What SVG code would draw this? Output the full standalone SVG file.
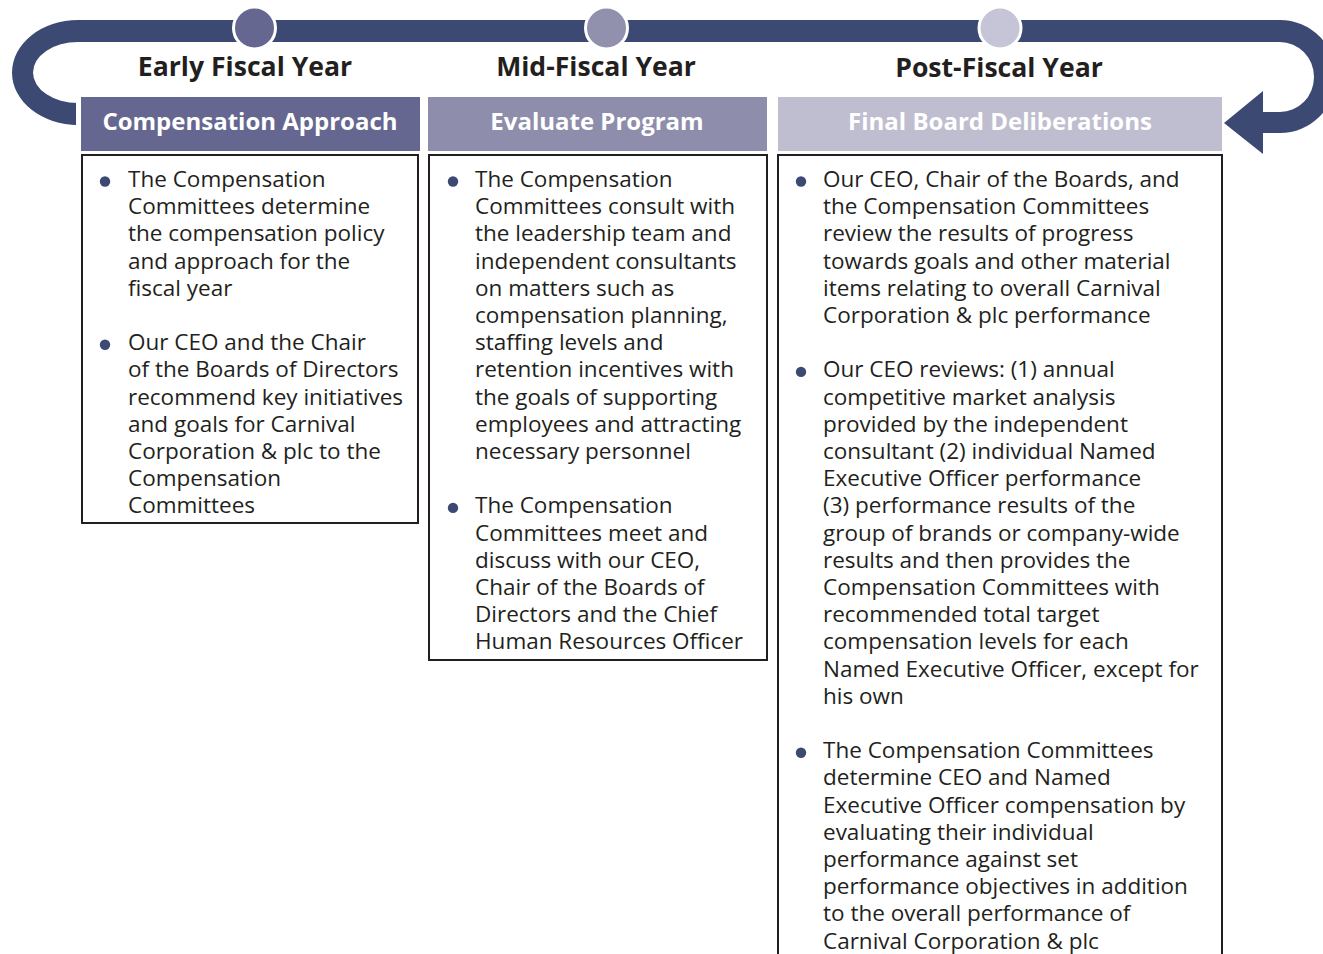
<svg xmlns="http://www.w3.org/2000/svg" width="1323" height="954" viewBox="0 0 1323 954">
<style>
.phase{font-family:"Open Sans","Noto Sans",sans-serif;font-weight:700;font-size:26.6px;fill:#231f20;text-anchor:middle}
.hdr{font-family:"Open Sans","Noto Sans",sans-serif;font-weight:700;font-size:24px;fill:#ffffff;text-anchor:middle}
.body{font-family:"Open Sans","Noto Sans",sans-serif;font-size:22.5px;fill:#231f20}
.box{fill:#ffffff;stroke:#231f20;stroke-width:2}
.dot{fill:#3c4a73}
.ring{stroke:#ffffff;stroke-width:3}
</style>
<rect width="1323" height="954" fill="#ffffff"/>
<g id="connectors">
<path d="M 78 20 L 1280 20 A 56 56.5 0 0 1 1280 133 L 1263 133 L 1263 154 L 1224 123 L 1263 91 L 1263 112 L 1280 112 A 34 35 0 0 0 1280 42 L 78 42 A 45 30.5 0 0 0 78 103 L 76 103 L 76 125 L 78 125 A 66 52.5 0 0 1 78 20 Z" fill="#3c4a73"/>
</g>
<g id="marker-early"><circle class="ring" cx="254.5" cy="28" r="21" fill="#656790"/></g>
<g id="marker-mid"><circle class="ring" cx="606.5" cy="28" r="21" fill="#9190ad"/></g>
<g id="marker-post"><circle class="ring" cx="1000" cy="28" r="21" fill="#c6c5d8"/></g>
<g id="phase-early"><text class="phase" x="245" y="76">Early Fiscal Year</text></g>
<g id="phase-mid"><text class="phase" x="596" y="76">Mid-Fiscal Year</text></g>
<g id="phase-post"><text class="phase" x="999" y="77">Post-Fiscal Year</text></g>
<g id="header-1"><rect x="81" y="97" width="339" height="54" fill="#656790"/><text class="hdr" x="250" y="129.5">Compensation Approach</text></g>
<g id="header-2"><rect x="428" y="97" width="339" height="54" fill="#8e8dab"/><text class="hdr" x="597" y="129.5">Evaluate Program</text></g>
<g id="header-3"><rect x="778" y="97" width="444" height="54" fill="#bfbed0"/><text class="hdr" x="1000" y="129.5">Final Board Deliberations</text></g>
<g id="box-1">
<rect class="box" x="82" y="155" width="336" height="368"/>
<circle class="dot" cx="105" cy="181.5" r="5.2"/>
<text class="body" x="128" y="187"><tspan x="128">The Compensation</tspan><tspan x="128" dy="27.2">Committees determine</tspan><tspan x="128" dy="27.2">the compensation policy</tspan><tspan x="128" dy="27.2">and approach for the</tspan><tspan x="128" dy="27.2">fiscal year</tspan></text>
<circle class="dot" cx="105" cy="344.7" r="5.2"/>
<text class="body" x="128" y="350.2"><tspan x="128">Our CEO and the Chair</tspan><tspan x="128" dy="27.2">of the Boards of Directors</tspan><tspan x="128" dy="27.2">recommend key initiatives</tspan><tspan x="128" dy="27.2">and goals for Carnival</tspan><tspan x="128" dy="27.2">Corporation &amp; plc to the</tspan><tspan x="128" dy="27.2">Compensation</tspan><tspan x="128" dy="27.2">Committees</tspan></text>
</g>
<g id="box-2">
<rect class="box" x="429" y="155" width="338" height="505"/>
<circle class="dot" cx="453" cy="181.5" r="5.2"/>
<text class="body" x="475" y="187"><tspan x="475">The Compensation</tspan><tspan x="475" dy="27.2">Committees consult with</tspan><tspan x="475" dy="27.2">the leadership team and</tspan><tspan x="475" dy="27.2">independent consultants</tspan><tspan x="475" dy="27.2">on matters such as</tspan><tspan x="475" dy="27.2">compensation planning,</tspan><tspan x="475" dy="27.2">staffing levels and</tspan><tspan x="475" dy="27.2">retention incentives with</tspan><tspan x="475" dy="27.2">the goals of supporting</tspan><tspan x="475" dy="27.2">employees and attracting</tspan><tspan x="475" dy="27.2">necessary personnel</tspan></text>
<circle class="dot" cx="453" cy="507.9" r="5.2"/>
<text class="body" x="475" y="513.4"><tspan x="475">The Compensation</tspan><tspan x="475" dy="27.2">Committees meet and</tspan><tspan x="475" dy="27.2">discuss with our CEO,</tspan><tspan x="475" dy="27.2">Chair of the Boards of</tspan><tspan x="475" dy="27.2">Directors and the Chief</tspan><tspan x="475" dy="27.2">Human Resources Officer</tspan></text>
</g>
<g id="box-3">
<rect class="box" x="778" y="155" width="444" height="820"/>
<circle class="dot" cx="801" cy="181.5" r="5.2"/>
<text class="body" x="823" y="187"><tspan x="823">Our CEO, Chair of the Boards, and</tspan><tspan x="823" dy="27.2">the Compensation Committees</tspan><tspan x="823" dy="27.2">review the results of progress</tspan><tspan x="823" dy="27.2">towards goals and other material</tspan><tspan x="823" dy="27.2">items relating to overall Carnival</tspan><tspan x="823" dy="27.2">Corporation &amp; plc performance</tspan></text>
<circle class="dot" cx="801" cy="371.9" r="5.2"/>
<text class="body" x="823" y="377.4"><tspan x="823">Our CEO reviews: (1) annual</tspan><tspan x="823" dy="27.2">competitive market analysis</tspan><tspan x="823" dy="27.2">provided by the independent</tspan><tspan x="823" dy="27.2">consultant (2) individual Named</tspan><tspan x="823" dy="27.2">Executive Officer performance</tspan><tspan x="823" dy="27.2">(3) performance results of the</tspan><tspan x="823" dy="27.2">group of brands or company-wide</tspan><tspan x="823" dy="27.2">results and then provides the</tspan><tspan x="823" dy="27.2">Compensation Committees with</tspan><tspan x="823" dy="27.2">recommended total target</tspan><tspan x="823" dy="27.2">compensation levels for each</tspan><tspan x="823" dy="27.2">Named Executive Officer, except for</tspan><tspan x="823" dy="27.2">his own</tspan></text>
<circle class="dot" cx="801" cy="752.7" r="5.2"/>
<text class="body" x="823" y="758.2"><tspan x="823">The Compensation Committees</tspan><tspan x="823" dy="27.2">determine CEO and Named</tspan><tspan x="823" dy="27.2">Executive Officer compensation by</tspan><tspan x="823" dy="27.2">evaluating their individual</tspan><tspan x="823" dy="27.2">performance against set</tspan><tspan x="823" dy="27.2">performance objectives in addition</tspan><tspan x="823" dy="27.2">to the overall performance of</tspan><tspan x="823" dy="27.2">Carnival Corporation &amp; plc</tspan></text>
</g>
</svg>
